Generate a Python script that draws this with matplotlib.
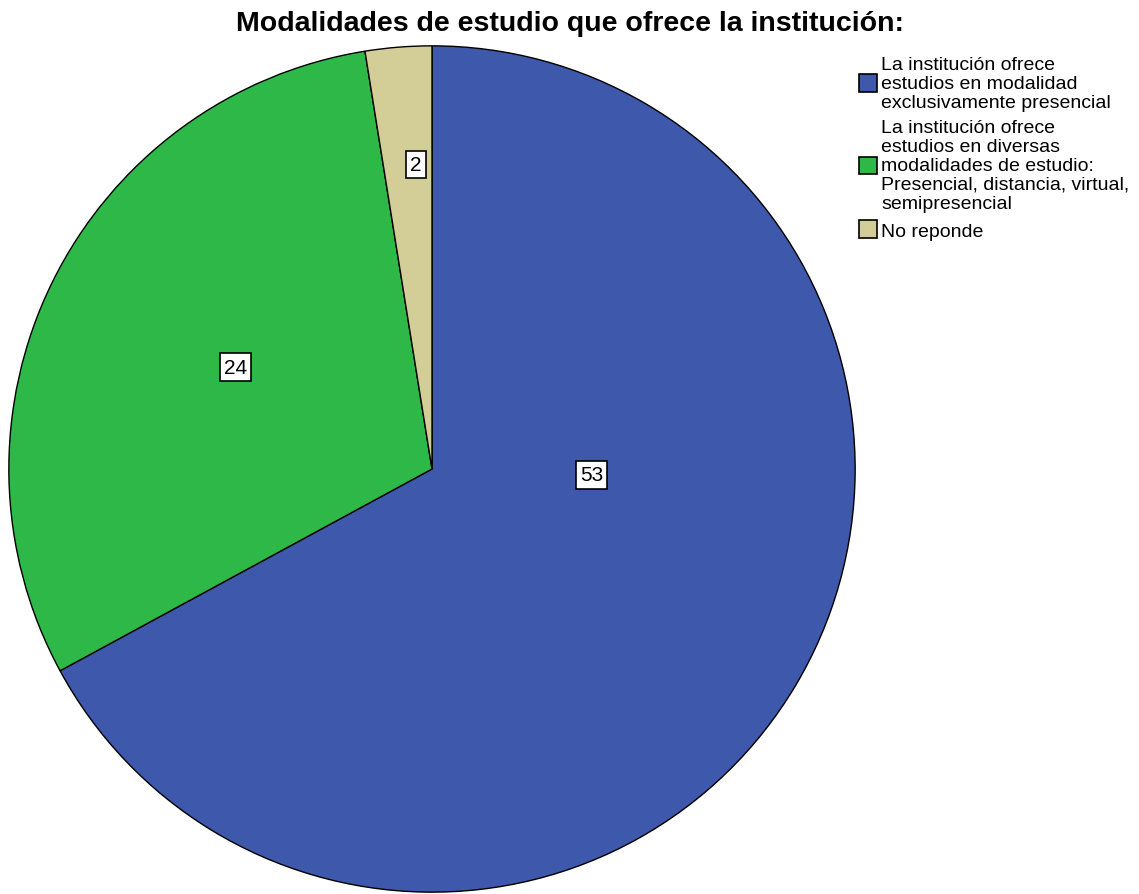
import matplotlib
matplotlib.use("Agg")
import matplotlib.pyplot as plt
import numpy as np
from matplotlib.patches import Patch

plt.rcParams['font.family'] = ['Liberation Sans', 'DejaVu Sans']

categories = [
    "La institución ofrece\nestudios en modalidad\nexclusivamente presencial",
    "La institución ofrece\nestudios en diversas\nmodalidades de estudio:\nPresencial, distancia, virtual,\nsemipresencial",
    "No reponde",
]
values = [53, 24, 2]
colors = ["#3E58AC", "#2EB848", "#D3CE97"]
title = "Modalidades de estudio que ofrece la institución:"

# label placement (angle in degrees, radius fraction) mimicking SPSS
label_angles = [-2.1, 152.6, 93.0]
label_radii = [0.377, 0.523, 0.72]

W, H = 1139, 895
fig = plt.figure(figsize=(W / 100, H / 100), dpi=100)
cx, cy, r = 432, 470, 424
ax = fig.add_axes([(cx - r) / W, (H - cy - r) / H, 2 * r / W, 2 * r / H])
wedges, _ = ax.pie(values, colors=colors, startangle=90, counterclock=False,
                   radius=1.0, wedgeprops=dict(edgecolor="black", linewidth=1.0))
ax.set_xlim(-1.002, 1.002)
ax.set_ylim(-1.002, 1.002)
ax.set_aspect("equal")
ax.axis("off")

for v, a, rr in zip(values, label_angles, label_radii):
    t = np.deg2rad(a)
    ax.text(rr * np.cos(t), rr * np.sin(t), str(v), ha="center", va="center",
            fontsize=15,
            bbox=dict(boxstyle="square,pad=0.2", facecolor="white",
                      edgecolor="black", linewidth=1.2))

fig.text(0.5, 1 - 24 / H, title, ha="center", va="center",
         fontsize=20.5, fontweight="bold")

handles = [Patch(facecolor=c, edgecolor="black", linewidth=1.2) for c in colors]
leg = fig.legend(handles, categories, loc="upper left",
                 bbox_to_anchor=(859 / W, 1 - 57 / H), frameon=False,
                 fontsize=14, handlelength=0.95, handleheight=1.0,
                 handletextpad=0.2, labelspacing=0.45, borderaxespad=0,
                 borderpad=0)
for t in leg.get_texts():
    t.set_linespacing(1.14)

fig.savefig("out.png", dpi=100, facecolor="white")
